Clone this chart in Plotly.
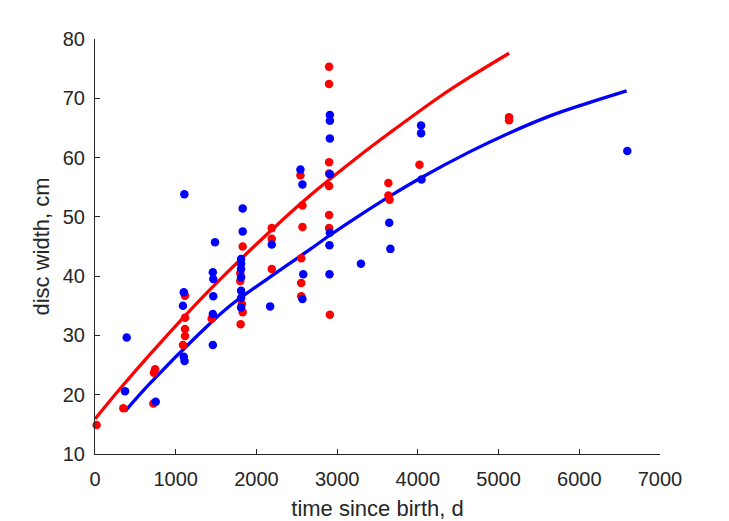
import plotly.graph_objects as go

# Observed data: red series
red_t = [20, 351, 723, 730, 745, 1115, 1115, 1115, 1115, 1090, 1445,
         1830, 1800, 1800, 1820, 1830, 1805,
         2190, 2190, 2190,
         2545, 2570, 2570, 2555, 2555, 2555,
         2900, 2900, 2900, 2900, 2900, 2900, 2900, 2910,
         3635, 3635, 3650, 4020, 5130, 5130]
red_L = [14.9, 17.7, 18.5, 23.7, 24.3, 36.7, 33.0, 31.1, 29.9, 28.4, 32.8,
         45.0, 40.5, 39.2, 35.3, 33.9, 31.9,
         48.1, 46.3, 41.2,
         57.0, 51.9, 48.3, 43.0, 38.85, 36.6,
         75.3, 72.4, 59.2, 57.3, 55.2, 50.3, 48.1, 33.5,
         55.7, 53.6, 52.9, 58.8, 66.8, 66.3]

# Observed data: blue series
blue_t = [393, 372, 752, 1107, 1100, 1090, 1100, 1110,
          1487, 1460, 1465, 1465, 1460, 1460,
          1830, 1830, 1810, 1810, 1810, 1810, 1810, 1810, 1810,
          2190, 2170,
          2545, 2570, 2580, 2570,
          2910, 2910, 2910, 2910, 2910, 2905, 2905,
          3295, 3645, 3660, 4040, 4040, 4045, 6595]
blue_L = [29.65, 20.6, 18.8, 53.8, 37.3, 35.0, 26.4, 25.7,
          45.7, 40.65, 39.5, 36.6, 33.6, 28.4,
          51.4, 47.55, 42.9, 42.1, 41.2, 39.8, 37.55, 36.3, 34.7,
          45.35, 34.9,
          58.0, 55.45, 40.3, 36.15,
          67.2, 66.2, 63.2, 57.2, 47.3, 45.2, 40.3,
          42.1, 49.0, 44.6, 65.4, 64.1, 56.3, 61.1]

# Fitted curves
red_fit_t = [0, 310, 681, 1301, 1673, 2292, 2664, 3284, 3655, 4275, 4647, 5130]
red_fit_L = [15.9, 21.0, 26.8, 36.0, 41.1, 49.1, 53.6, 60.4, 64.2, 70.3, 73.6, 77.6]

blue_fit_t = [372, 681, 1301, 1673, 2292, 2664, 2910, 3284, 3655, 4040, 4647, 5142, 5576, 5948, 6587]
blue_fit_L = [17.2, 21.9, 30.4, 35.0, 41.0, 44.5, 46.9, 50.3, 53.5, 56.6, 61.0, 64.2, 66.7, 68.5, 71.25]

RED = "#FF0000"
BLUE = "#0000FF"
AX = "#262626"
FONT = "Liberation Sans, Arial, Helvetica, sans-serif"

fig = go.Figure()
fig.add_trace(go.Scatter(x=red_fit_t, y=red_fit_L, mode="lines",
                         line=dict(color=RED, width=3.3, shape="spline", smoothing=1.0),
                         showlegend=False, hoverinfo="skip", cliponaxis=False))
fig.add_trace(go.Scatter(x=blue_fit_t, y=blue_fit_L, mode="lines",
                         line=dict(color=BLUE, width=3.3, shape="spline", smoothing=1.0),
                         showlegend=False, hoverinfo="skip", cliponaxis=False))
fig.add_trace(go.Scatter(x=red_t, y=red_L, mode="markers",
                         marker=dict(color=RED, size=8.5, line=dict(width=0)),
                         showlegend=False, cliponaxis=False))
fig.add_trace(go.Scatter(x=blue_t, y=blue_L, mode="markers",
                         marker=dict(color=BLUE, size=8.5, line=dict(width=0)),
                         showlegend=False, cliponaxis=False))

axis_common = dict(
    showgrid=False, zeroline=False, showline=True, linecolor=AX, linewidth=1,
    ticks="inside", ticklen=5, tickwidth=1, tickcolor=AX, mirror=False,
    tickfont=dict(family=FONT, size=20, color=AX), automargin=False,
)

fig.update_layout(
    width=729, height=521,
    margin=dict(l=95, r=69, t=39, b=67),
    paper_bgcolor="white", plot_bgcolor="white",
    font=dict(family=FONT, color=AX),
    xaxis=dict(range=[0, 7000], tickvals=[0, 1000, 2000, 3000, 4000, 5000, 6000, 7000],
               ticklabelstandoff=7,
               title=dict(text="time since birth, d", font=dict(family=FONT, size=22, color=AX), standoff=14),
               **axis_common),
    yaxis=dict(range=[10, 80], tickvals=[10, 20, 30, 40, 50, 60, 70, 80],
               ticklabelstandoff=5,
               title=dict(text="disc width, cm", font=dict(family=FONT, size=22, color=AX), standoff=7),
               **axis_common),
)

fig.write_html("out.html")
